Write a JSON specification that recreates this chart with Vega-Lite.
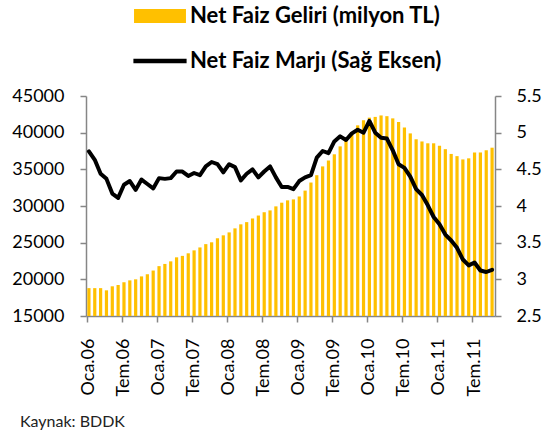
{
  "$schema": "https://vega.github.io/schema/vega-lite/v6.json",
  "width": 409,
  "height": 220,
  "autosize": {"type": "none"},
  "padding": {"left": 86, "top": 96, "right": 52, "bottom": 121},
  "background": "white",
  "config": {"view": {"stroke": null}, "font": "Lato"},
  "title": {"text": "Kaynak: BDDK", "orient": "bottom", "anchor": "start", "frame": "group", "dx": -66, "offset": 18, "fontSize": 16, "fontWeight": "normal", "font": "Lato", "color": "#222222"},
  "data": {"values": [
    {"ay": "2006-01", "nfg": 18800, "nfm": 4.745},
    {"ay": "2006-02", "nfg": 18800, "nfm": 4.63},
    {"ay": "2006-03", "nfg": 18800, "nfm": 4.44},
    {"ay": "2006-04", "nfg": 18500, "nfm": 4.37},
    {"ay": "2006-05", "nfg": 19050, "nfm": 4.17},
    {"ay": "2006-06", "nfg": 19230, "nfm": 4.11},
    {"ay": "2006-07", "nfg": 19600, "nfm": 4.29},
    {"ay": "2006-08", "nfg": 19860, "nfm": 4.34},
    {"ay": "2006-09", "nfg": 20000, "nfm": 4.22},
    {"ay": "2006-10", "nfg": 20400, "nfm": 4.36},
    {"ay": "2006-11", "nfg": 20700, "nfm": 4.30},
    {"ay": "2006-12", "nfg": 21200, "nfm": 4.24},
    {"ay": "2007-01", "nfg": 21800, "nfm": 4.38},
    {"ay": "2007-02", "nfg": 22100, "nfm": 4.37},
    {"ay": "2007-03", "nfg": 22450, "nfm": 4.38},
    {"ay": "2007-04", "nfg": 23000, "nfm": 4.47},
    {"ay": "2007-05", "nfg": 23200, "nfm": 4.47},
    {"ay": "2007-06", "nfg": 23550, "nfm": 4.41},
    {"ay": "2007-07", "nfg": 23950, "nfm": 4.45},
    {"ay": "2007-08", "nfg": 24350, "nfm": 4.42},
    {"ay": "2007-09", "nfg": 24800, "nfm": 4.54},
    {"ay": "2007-10", "nfg": 25050, "nfm": 4.60},
    {"ay": "2007-11", "nfg": 25600, "nfm": 4.57},
    {"ay": "2007-12", "nfg": 26000, "nfm": 4.46},
    {"ay": "2008-01", "nfg": 26400, "nfm": 4.57},
    {"ay": "2008-02", "nfg": 26950, "nfm": 4.53},
    {"ay": "2008-03", "nfg": 27500, "nfm": 4.35},
    {"ay": "2008-04", "nfg": 27800, "nfm": 4.44},
    {"ay": "2008-05", "nfg": 28300, "nfm": 4.50},
    {"ay": "2008-06", "nfg": 28700, "nfm": 4.39},
    {"ay": "2008-07", "nfg": 29150, "nfm": 4.47},
    {"ay": "2008-08", "nfg": 29400, "nfm": 4.54},
    {"ay": "2008-09", "nfg": 29950, "nfm": 4.39},
    {"ay": "2008-10", "nfg": 30450, "nfm": 4.26},
    {"ay": "2008-11", "nfg": 30770, "nfm": 4.26},
    {"ay": "2008-12", "nfg": 30900, "nfm": 4.23},
    {"ay": "2009-01", "nfg": 31300, "nfm": 4.34},
    {"ay": "2009-02", "nfg": 32100, "nfm": 4.39},
    {"ay": "2009-03", "nfg": 33200, "nfm": 4.42},
    {"ay": "2009-04", "nfg": 34200, "nfm": 4.66},
    {"ay": "2009-05", "nfg": 35400, "nfm": 4.75},
    {"ay": "2009-06", "nfg": 36200, "nfm": 4.72},
    {"ay": "2009-07", "nfg": 37050, "nfm": 4.88},
    {"ay": "2009-08", "nfg": 38130, "nfm": 4.95},
    {"ay": "2009-09", "nfg": 38950, "nfm": 4.90},
    {"ay": "2009-10", "nfg": 40050, "nfm": 4.99},
    {"ay": "2009-11", "nfg": 41000, "nfm": 5.04},
    {"ay": "2009-12", "nfg": 41700, "nfm": 5.00},
    {"ay": "2010-01", "nfg": 42050, "nfm": 5.16},
    {"ay": "2010-02", "nfg": 42150, "nfm": 5.00},
    {"ay": "2010-03", "nfg": 42350, "nfm": 4.93},
    {"ay": "2010-04", "nfg": 42250, "nfm": 4.92},
    {"ay": "2010-05", "nfg": 41950, "nfm": 4.76},
    {"ay": "2010-06", "nfg": 41450, "nfm": 4.57},
    {"ay": "2010-07", "nfg": 40700, "nfm": 4.52},
    {"ay": "2010-08", "nfg": 39900, "nfm": 4.40},
    {"ay": "2010-09", "nfg": 39100, "nfm": 4.23},
    {"ay": "2010-10", "nfg": 38800, "nfm": 4.15},
    {"ay": "2010-11", "nfg": 38550, "nfm": 4.01},
    {"ay": "2010-12", "nfg": 38550, "nfm": 3.85},
    {"ay": "2011-01", "nfg": 38200, "nfm": 3.75},
    {"ay": "2011-02", "nfg": 37750, "nfm": 3.61},
    {"ay": "2011-03", "nfg": 37100, "nfm": 3.53},
    {"ay": "2011-04", "nfg": 36800, "nfm": 3.43},
    {"ay": "2011-05", "nfg": 36350, "nfm": 3.27},
    {"ay": "2011-06", "nfg": 36500, "nfm": 3.19},
    {"ay": "2011-07", "nfg": 37300, "nfm": 3.23},
    {"ay": "2011-08", "nfg": 37300, "nfm": 3.12},
    {"ay": "2011-09", "nfg": 37600, "nfm": 3.10},
    {"ay": "2011-10", "nfg": 37950, "nfm": 3.13}
  ]},
  "encoding": {
    "x": {
      "field": "ay", "type": "ordinal", "sort": null,
      "scale": {"paddingInner": 0.45, "paddingOuter": 0.225},
      "axis": {
        "title": null,
        "values": ["2006-01", "2006-07", "2007-01", "2007-07", "2008-01", "2008-07", "2009-01", "2009-07", "2010-01", "2010-07", "2011-01", "2011-07"],
        "labelExpr": "(substring(datum.value,5,7) == '01' ? 'Oca.' : 'Tem.') + substring(datum.value,2,4)",
        "labelAngle": -90,
        "labelFont": "Lato", "labelFontSize": 18, "labelColor": "#000000", "labelPadding": 16,
        "bandPosition": 0,
        "tickSize": 6, "tickColor": "#868686", "tickWidth": 1.5,
        "domainColor": "#868686", "domainWidth": 1.5,
        "grid": false
      }
    }
  },
  "layer": [
    {
      "mark": {"type": "bar", "color": "#FFC000", "clip": true},
      "encoding": {
        "y": {
          "field": "nfg", "type": "quantitative",
          "scale": {"domain": [15000, 45000], "nice": false, "zero": false},
          "axis": {
            "orient": "left", "title": null,
            "values": [15000, 20000, 25000, 30000, 35000, 40000, 45000],
            "format": "d",
            "labelFont": "Lato", "labelFontSize": 18, "labelColor": "#000000", "labelPadding": 16,
            "tickSize": 6, "tickColor": "#868686", "tickWidth": 1.5,
            "domainColor": "#868686", "domainWidth": 1.5, "grid": false
          }
        },
        "y2": {"datum": 15000},
        "color": {
          "datum": "Net Faiz Geliri (milyon TL)", "type": "nominal",
          "scale": {"domain": ["Net Faiz Geliri (milyon TL)", "Net Faiz Marjı (Sağ Eksen)"], "range": ["#FFC000", "#000000"]},
          "legend": {
            "orient": "none", "legendX": 63, "legendY": -91, "title": null, "direction": "vertical",
            "symbolSize": 196, "labelFontSize": 22, "labelFont": "Lato", "labelFontWeight": "bold", "labelColor": "#000000",
            "labelOffset": 19, "rowPadding": 23, "padding": 0, "labelLimit": 400,
            "encode": {
              "symbols": {
                "update": {
                  "shape": {"signal": "datum.value === 'Net Faiz Geliri (milyon TL)' ? 'M-3.71,-1H3.71V1H-3.71Z' : 'M-3.8,-0.32H3.8V0.32H-3.8Z'"},
                  "fill": {"signal": "datum.value === 'Net Faiz Geliri (milyon TL)' ? '#FFC000' : '#000000'"},
                  "fillOpacity": {"value": 1},
                  "opacity": {"value": 1},
                  "strokeWidth": {"value": 0}
                }
              }
            }
          }
        }
      }
    },
    {
      "mark": {"type": "line", "color": "#000000", "strokeWidth": 4, "strokeJoin": "round", "strokeCap": "round"},
      "encoding": {
        "y": {
          "field": "nfm", "type": "quantitative",
          "scale": {"domain": [2.5, 5.5], "nice": false, "zero": false},
          "axis": {
            "orient": "right", "title": null,
            "values": [2.5, 3, 3.5, 4, 4.5, 5, 5.5],
            "format": "~g",
            "labelFont": "Lato", "labelFontSize": 18, "labelColor": "#000000", "labelPadding": 15,
            "tickSize": 6, "tickColor": "#868686", "tickWidth": 1.5,
            "domainColor": "#868686", "domainWidth": 1.5, "grid": false
          }
        },
        "color": {"datum": "Net Faiz Marjı (Sağ Eksen)", "type": "nominal"}
      }
    }
  ],
  "resolve": {"scale": {"y": "independent"}}
}
